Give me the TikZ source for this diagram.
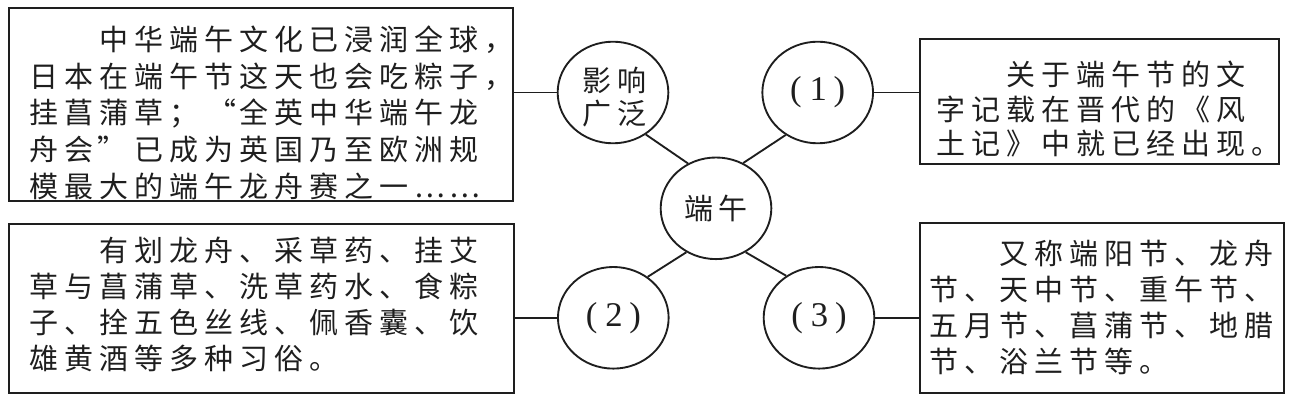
\documentclass[tikz,border=0pt]{standalone}
\usepackage{fontspec}
\setmainfont{Liberation Serif}
\newfontfamily\zhfont{Noto Sans CJK SC}
\usetikzlibrary{shapes.geometric}
\newdimen\cw \cw=26.25pt
\makeatletter
\newcommand\zhcells[1]{\hbox{\@tfor\zzc:=#1\do{\hbox to \cw{\hss\zzc\hss}}}}
\makeatother
\newcommand\Lq{\hbox to \cw{\hss“\hskip0.5pt}}
\newcommand\Rq{\hbox to \cw{\hskip0.5pt”\hss}}
\newcommand\ind{\hskip2\cw}
\newcommand\zhlines[2]{\vtop{\baselineskip=#1\lineskiplimit=-1000pt\lineskip=0pt #2}}
\definecolor{ink}{HTML}{1E1E1E}
\begin{document}
\begin{tikzpicture}[x=0.75pt,y=-0.75pt,
  line width=1.4pt, draw=ink,
  every node/.style={text=ink, font=\zhfont\fontsize{21.75pt}{21.75pt}\selectfont},
  box/.style={draw, rectangle, anchor=north west, inner sep=0pt},
  ell/.style={draw, ellipse, inner sep=0pt, minimum width=83pt, minimum height=76.2pt},
  txt/.style={anchor=base west, inner sep=0pt},
  num/.style={font=\fontsize{26pt}{26pt}\selectfont}]
\useasboundingbox (0,0) rectangle (1298,402);

% boxes
\node[box, minimum width=378pt, minimum height=144.75pt] (tl) at (8,7) {};
\node[box, minimum width=378.75pt, minimum height=126.75pt] (bl) at (8,223) {};
\node[box, minimum width=269.25pt, minimum height=93.75pt] (tr) at (919,38) {};
\node[box, minimum width=273pt, minimum height=127.5pt] (br) at (919,222) {};

% texts in boxes
\node[txt] (tlt) at (26,50.5) {\zhlines{27.5pt}{%
  \hbox{\ind\zhcells{中华端午文化已浸润全球，}}
  \zhcells{日本在端午节这天也会吃粽子，}
  \zhcells{挂菖蒲草；\Lq 全英中华端午龙}
  \zhcells{舟会\Rq 已成为英国乃至欧洲规}
  \zhcells{模最大的端午龙舟赛之一……}}};
\node[txt] (blt) at (26,262) {\zhlines{27pt}{%
  \hbox{\ind\zhcells{有划龙舟、采草药、挂艾}}
  \zhcells{草与菖蒲草、洗草药水、食粽}
  \zhcells{子、拴五色丝线、佩香囊、饮}
  \zhcells{雄黄酒等多种习俗。}}};
\node[txt] (trt) at (933,86) {\zhlines{25.875pt}{%
  \hbox{\ind\zhcells{关于端午节的文}}
  \zhcells{字记载在晋代的《风}
  \zhcells{土记》中就已经出现。}}};
\node[txt] (brt) at (926,265) {\zhlines{27pt}{%
  \hbox{\ind\zhcells{又称端阳节、龙舟}}
  \zhcells{节、天中节、重午节、}
  \zhcells{五月节、菖蒲节、地腊}
  \zhcells{节、浴兰节等。}}};

% ellipses
\node[ell] (ying) at (613,92.5) {};
\node[txt] (yingt) at (578.5,92) {\zhlines{24.75pt}{%
  \zhcells{影响}
  \zhcells{广泛}}};
\node[ell] (c1) at (817.7,92.5) {\rmfamily\fontsize{26pt}{26pt}\selectfont(\hspace{6pt}1\hspace{5pt})};
\node[ell] (dw) at (716,208.3) {\zhcells{端午}};
\node[ell] (c2) at (613.3,317.8) {\rmfamily\fontsize{26pt}{26pt}\selectfont(\hspace{6pt}2\hspace{5pt})};
\node[ell] (c3) at (819,317.8) {\rmfamily\fontsize{26pt}{26pt}\selectfont(\hspace{6pt}3\hspace{5pt})};

% connectors
\draw (ying.west) -- (ying.west -| tl.east);
\draw (c1.east) -- (c1.east -| tr.west);
\draw (c2.west) -- (c2.west -| bl.east);
\draw (c3.east) -- (c3.east -| br.west);
\draw (ying.-52) -- (dw.122);
\draw (c1.233) -- (dw.59);
\draw (c2.50) -- (dw.236);
\draw (c3.128) -- (dw.304);
\end{tikzpicture}
\end{document}
